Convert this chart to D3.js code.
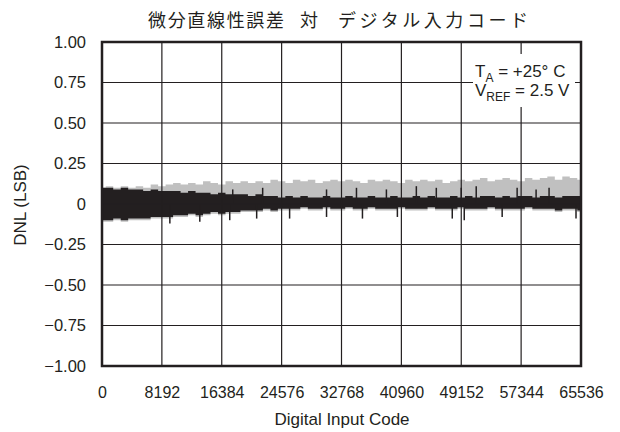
<!DOCTYPE html>
<html>
<head>
<meta charset="utf-8">
<script src="https://cdn.jsdelivr.net/npm/d3@7.9.0/dist/d3.min.js"></script>
<style>
  body { margin: 0; background: #fff; }
  text { font-family: "Liberation Sans", Arial, sans-serif; fill: #231f20; }
  .title { font-family: "Noto Sans CJK JP", sans-serif; }
</style>
</head>
<body>
<svg width="620" height="432"></svg>
<script>
// axis ticks
const xTicks = [0, 8192, 16384, 24576, 32768, 40960, 49152, 57344, 65536];
const yTicks = [1, 0.75, 0.5, 0.25, 0, -0.25, -0.5, -0.75, -1];
const yTickLabels = ["1.00", "0.75", "0.50", "0.25", "0", "\u22120.25", "\u22120.50", "\u22120.75", "\u22121.00"];

// envelope of the DNL trace, one value every 1024 codes
const codeStep = 1024;
const darkHi = [0.10,0.10,0.09,0.10,0.09,0.09,0.08,0.09,0.08,0.08,
  0.08,0.07,0.08,0.07,0.07,0.06,0.07,0.06,0.06,0.06,
  0.05,0.06,0.05,0.05,0.04,0.05,0.04,0.05,0.04,0.04,
  0.05,0.04,0.04,0.05,0.04,0.04,0.05,0.04,0.04,0.05,
  0.04,0.04,0.05,0.04,0.05,0.04,0.04,0.05,0.04,0.05,
  0.04,0.05,0.05,0.04,0.05,0.04,0.05,0.05,0.04,0.05,
  0.05,0.04,0.05,0.05,0.05];
const darkLo = [-0.10,-0.10,-0.09,-0.10,-0.09,-0.09,-0.09,-0.08,-0.08,-0.08,
  -0.07,-0.07,-0.06,-0.07,-0.06,-0.05,-0.06,-0.05,-0.05,-0.04,
  -0.04,-0.04,-0.03,-0.04,-0.03,-0.03,-0.03,-0.02,-0.03,-0.03,
  -0.02,-0.03,-0.03,-0.02,-0.03,-0.03,-0.02,-0.03,-0.03,-0.03,
  -0.02,-0.03,-0.03,-0.03,-0.02,-0.03,-0.03,-0.03,-0.02,-0.03,
  -0.03,-0.03,-0.02,-0.03,-0.03,-0.03,-0.03,-0.02,-0.03,-0.03,
  -0.03,-0.04,-0.03,-0.03,-0.04];
const grayHi = [0.10,0.11,0.10,0.11,0.10,0.11,0.10,0.12,0.11,0.12,
  0.13,0.12,0.13,0.12,0.14,0.13,0.12,0.14,0.13,0.14,
  0.13,0.14,0.13,0.15,0.14,0.13,0.15,0.14,0.15,0.13,
  0.14,0.15,0.14,0.15,0.14,0.13,0.15,0.14,0.15,0.14,
  0.13,0.15,0.14,0.15,0.14,0.15,0.13,0.14,0.15,0.14,
  0.15,0.16,0.14,0.15,0.16,0.15,0.14,0.16,0.15,0.16,
  0.17,0.15,0.17,0.16,0.15];
const grayLo = [-0.11,-0.11,-0.10,-0.11,-0.10,-0.10,-0.10,-0.09,-0.09,-0.09,
  -0.08,-0.08,-0.07,-0.08,-0.07,-0.06,-0.07,-0.06,-0.06,-0.05,
  -0.05,-0.05,-0.04,-0.05,-0.04,-0.04,-0.04,-0.03,-0.04,-0.04,
  -0.03,-0.04,-0.04,-0.03,-0.04,-0.04,-0.03,-0.04,-0.04,-0.04,
  -0.03,-0.04,-0.04,-0.04,-0.03,-0.04,-0.04,-0.04,-0.03,-0.04,
  -0.04,-0.04,-0.03,-0.04,-0.04,-0.04,-0.04,-0.03,-0.04,-0.04,
  -0.04,-0.05,-0.04,-0.04,-0.05];

// isolated spikes that stick out of the band
const upSpikeCodes = [17886, 21982, 30720, 34816, 38912, 43008, 45739, 49152, 51200, 56798, 59392, 61167];
const upSpikeValues = [0.09, 0.10, 0.09, 0.10, 0.09, 0.11, 0.10, 0.10, 0.11, 0.10, 0.09, 0.10];
const downSpikeCodes = [9284, 13380, 17476, 21162, 25668, 30720, 35635, 40414, 47923, 49561, 54750, 64853];
const downSpikeValues = [-0.12, -0.11, -0.10, -0.09, -0.09, -0.08, -0.09, -0.08, -0.09, -0.10, -0.08, -0.09];

const svg = d3.select("svg");
const ink = "#231f20";

const x = d3.scaleLinear().domain([0, 65536]).range([102, 581]);
const y = d3.scaleLinear().domain([-1, 1]).range([366, 42]);

// title
svg.append("text").attr("class", "title").attr("x", 148).attr("y", 27)
  .attr("font-size", 18).attr("textLength", 136).text("微分直線性誤差");
svg.append("text").attr("class", "title").attr("x", 300).attr("y", 27)
  .attr("font-size", 18).text("対");
svg.append("text").attr("class", "title").attr("x", 338).attr("y", 27)
  .attr("font-size", 18).attr("textLength", 190).text("デジタル入力コード");

// data band
const idx = d3.range(darkHi.length);
const grayArea = d3.area()
  .x((i) => x(i * codeStep))
  .y0((i) => y(grayLo[i]))
  .y1((i) => y(grayHi[i]))
  .curve(d3.curveStep);
const darkArea = d3.area()
  .x((i) => x(i * codeStep))
  .y0((i) => y(darkLo[i]))
  .y1((i) => y(darkHi[i]))
  .curve(d3.curveStep);

svg.append("path").attr("d", grayArea(idx)).attr("fill", "#c0c0c0");
svg.append("path").attr("d", darkArea(idx)).attr("fill", ink);

svg.selectAll(".up").data(upSpikeCodes).join("line")
  .attr("x1", (d) => x(d)).attr("x2", (d) => x(d))
  .attr("y1", y(0)).attr("y2", (d, i) => y(upSpikeValues[i]))
  .attr("stroke", ink).attr("stroke-width", 1.5);
svg.selectAll(".down").data(downSpikeCodes).join("line")
  .attr("x1", (d) => x(d)).attr("x2", (d) => x(d))
  .attr("y1", y(0)).attr("y2", (d, i) => y(downSpikeValues[i]))
  .attr("stroke", ink).attr("stroke-width", 1.5);

// grid
svg.append("g")
  .selectAll("line").data(xTicks).join("line")
  .attr("x1", (d) => x(d)).attr("x2", (d) => x(d))
  .attr("y1", y(1)).attr("y2", y(-1))
  .attr("stroke", ink).attr("stroke-width", 1.2);
svg.append("g")
  .selectAll("line").data(yTicks).join("line")
  .attr("x1", x(0)).attr("x2", x(65536))
  .attr("y1", (d) => y(d)).attr("y2", (d) => y(d))
  .attr("stroke", ink).attr("stroke-width", 1.2);

// frame
svg.append("rect")
  .attr("x", x(0)).attr("y", y(1))
  .attr("width", x(65536) - x(0)).attr("height", y(-1) - y(1))
  .attr("fill", "none").attr("stroke", ink).attr("stroke-width", 2.5);

// axes labels
const yAxis = d3.axisLeft(y).tickValues(yTicks).tickSize(0).tickPadding(16)
  .tickFormat((d, i) => yTickLabels[i]);
svg.append("g").attr("transform", `translate(${x(0)},0)`).call(yAxis)
  .call((g) => g.select(".domain").remove())
  .selectAll("text").attr("font-size", 16.5).attr("fill", ink)
  .attr("font-family", "'Liberation Sans', Arial, sans-serif");

const xAxis = d3.axisBottom(x).tickValues(xTicks).tickSize(0).tickPadding(21)
  .tickFormat(d3.format("d"));
svg.append("g").attr("transform", `translate(0,${y(-1)})`).call(xAxis)
  .call((g) => g.select(".domain").remove())
  .selectAll("text").attr("font-size", 16).attr("fill", ink)
  .attr("font-family", "'Liberation Sans', Arial, sans-serif");

svg.append("text").attr("x", 342).attr("y", 425).attr("text-anchor", "middle")
  .attr("font-size", 17).text("Digital Input Code");
svg.append("text").attr("transform", "translate(26,205) rotate(-90)")
  .attr("text-anchor", "middle").attr("font-size", 17).text("DNL (LSB)");

// conditions box
svg.append("rect").attr("x", 473).attr("y", 54).attr("width", 102).attr("height", 53)
  .attr("fill", "#fff");
const t1 = svg.append("text").attr("x", 475).attr("y", 77).attr("font-size", 17);
t1.append("tspan").text("T");
t1.append("tspan").attr("font-size", 12).attr("dy", 5).text("A");
t1.append("tspan").attr("dy", -5).text(" = +25° C");
const t2 = svg.append("text").attr("x", 475).attr("y", 96).attr("font-size", 17);
t2.append("tspan").text("V");
t2.append("tspan").attr("font-size", 12).attr("dy", 5).text("REF");
t2.append("tspan").attr("dy", -5).text(" = 2.5 V");
</script>
</body>
</html>
